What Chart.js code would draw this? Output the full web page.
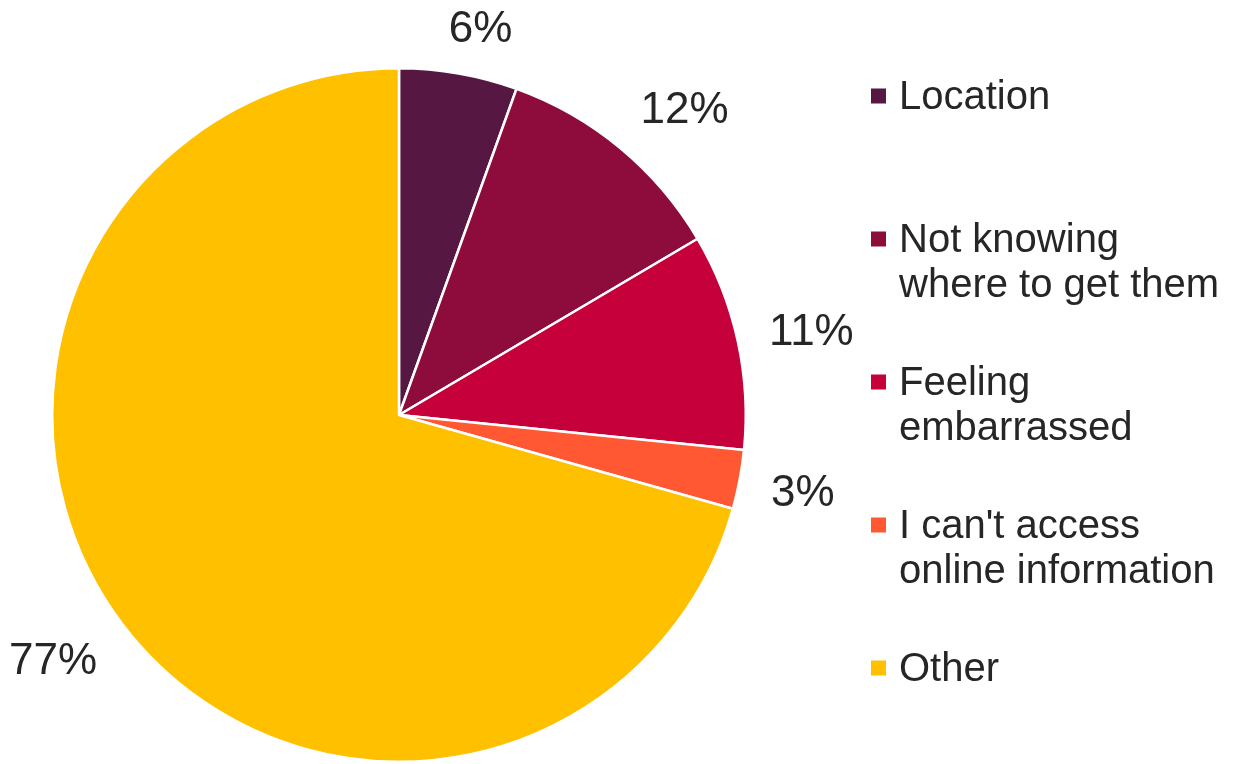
<!DOCTYPE html>
<html>
<head>
<meta charset="utf-8">
<script src="https://cdn.jsdelivr.net/npm/chart.js@4/dist/chart.umd.min.js"></script>
<style>
  html, body { margin: 0; padding: 0; background: #ffffff; }
  #wrap { width: 1236px; height: 764px; }
</style>
</head>
<body>
<div id="wrap"><canvas id="c" width="1236" height="764"></canvas></div>
<script>
// Barriers data: share of responses per reason
const categories = ["Location", "Not knowing where to get them", "Feeling embarrassed", "I can't access online information", "Other"];
const legendLines = [["Location"], ["Not knowing", "where to get them"], ["Feeling", "embarrassed"], ["I can't access", "online information"], ["Other"]];
const percentages = [6, 12, 11, 3, 77];
const sliceColors = ["#561843", "#8E0C3C", "#C5003A", "#FF5833", "#FFC000"];

const TEXT_COLOR = "#262626";
const FONT_FAMILY = "'Liberation Sans', Arial, sans-serif";

const clamp1 = v => Math.max(-1, Math.min(1, v));

// Percent labels outside each slice: an anchor point sits just beyond the rim on
// the slice's mid-angle, and the text box is pushed away from it toward the outside
const outsideLabels = {
  id: "outsideLabels",
  afterDatasetsDraw(chart) {
    const ctx = chart.ctx;
    const meta = chart.getDatasetMeta(0);
    ctx.save();
    ctx.font = "44px " + FONT_FAMILY;
    ctx.fillStyle = TEXT_COLOR;
    ctx.textAlign = "center";
    ctx.textBaseline = "alphabetic";
    const capH = 32;
    meta.data.forEach((arc, i) => {
      const p = arc.getProps(["x", "y", "startAngle", "endAngle", "outerRadius"], true);
      const mid = (p.startAngle + p.endAngle) / 2;
      const dx = Math.cos(mid), dy = Math.sin(mid);
      const text = percentages[i] + "%";
      const w = ctx.measureText(text).width;
      const ax = p.x + dx * (p.outerRadius + 32);
      const ay = p.y + dy * (p.outerRadius + 32);
      const cx = ax + (w / 2) * clamp1(dx * 3);
      const cy = ay + (capH / 2) * clamp1(dy * 1.5);
      ctx.fillText(text, cx, cy + capH / 2);
    });
    ctx.restore();
  }
};

// Right-hand legend with wrapped entries on an even pitch
const sideLegend = {
  id: "sideLegend",
  afterDraw(chart) {
    const ctx = chart.ctx;
    ctx.save();
    ctx.font = "40px " + FONT_FAMILY;
    ctx.textBaseline = "middle";
    ctx.textAlign = "left";
    const x0 = 871, textX = 899, y0 = 96, pitch = 143, lineH = 45, box = 15;
    legendLines.forEach((lines, i) => {
      const y = y0 + i * pitch;
      ctx.fillStyle = sliceColors[i];
      ctx.fillRect(x0, y - box / 2, box, box);
      ctx.fillStyle = TEXT_COLOR;
      lines.forEach((ln, j) => ctx.fillText(ln, textX, y + j * lineH + 2));
    });
    ctx.restore();
  }
};

new Chart(document.getElementById("c"), {
  type: "pie",
  data: {
    labels: categories,
    datasets: [{
      data: percentages,
      backgroundColor: sliceColors,
      borderColor: "#ffffff",
      borderWidth: 2.5
    }]
  },
  options: {
    responsive: false,
    animation: false,
    layout: { padding: { left: 51, top: 67, right: 489, bottom: 1 } },
    plugins: {
      legend: { display: false },
      tooltip: { enabled: false }
    }
  },
  plugins: [outsideLabels, sideLegend]
});
</script>
</body>
</html>
